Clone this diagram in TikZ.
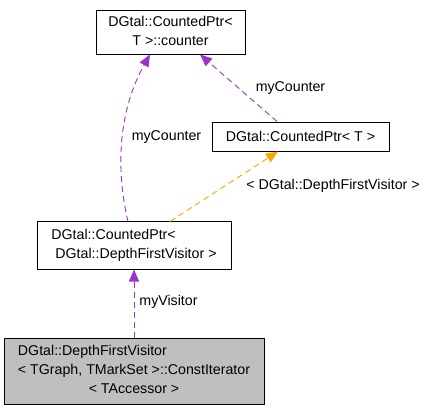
\documentclass[tikz,border=0pt]{standalone}
\usepackage{fontspec}
\setmainfont{Liberation Sans}
\usetikzlibrary{arrows.meta}
\definecolor{edgepurple}{HTML}{9A32CD}
\definecolor{edgeorange}{HTML}{FFA500}
\definecolor{boxgray}{HTML}{BFBFBF}
\tikzset{
  classbox/.style={draw=black, line width=1pt, rectangle, inner sep=0pt, font=\fontsize{14.2}{19}\selectfont},
  edgelabel/.style={inner sep=0pt, font=\fontsize{14.2}{19}\selectfont},
  uses/.style={draw=edgepurple, line width=0.9pt, dash pattern=on 6pt off 4pt, -{Triangle[length=12pt,width=10pt,fill=edgepurple]}},
  inherits/.style={draw=edgeorange, line width=0.9pt, dash pattern=on 6pt off 4pt, -{Triangle[length=12pt,width=10pt,fill=edgeorange]}}
}
\begin{document}
\begin{tikzpicture}[x=1pt,y=-1pt]
\useasboundingbox (0,0) rectangle (430,413);
\node[classbox, minimum width=149pt, minimum height=44pt] (counter) at (170.5,32)
  {\begin{tabular}{@{}c@{}}DGtal::CountedPtr<\\T >::counter\end{tabular}};
\node[classbox, minimum width=177pt, minimum height=29pt] (ptrT) at (300.5,136.5)
  {DGtal::CountedPtr< T >};
\node[classbox, minimum width=194pt, minimum height=48pt] (ptrDFV) at (134,245)
  {\begin{tabular}{@{}l@{}}DGtal::CountedPtr<\\\hspace{4pt}DGtal::DepthFirstVisitor >\end{tabular}};
\node[classbox, fill=boxgray, minimum width=260pt, minimum height=66pt] (iter) at (134,371)
  {\begin{tabular}{@{}l@{}}DGtal::DepthFirstVisitor\\< TGraph, TMarkSet >::ConstIterator\\\multicolumn{1}{@{}c@{}}{< TAccessor >}\end{tabular}};
\coordinate (a1) at (128,221.5);
\coordinate (a2) at (150,54.5);
\draw[uses] (a1) .. controls (117,175) and (116,115) .. (a2);
\coordinate (b1) at (277,121.5);
\coordinate (b2) at (200,54.5);
\draw[uses] (b1) -- (b2);
\coordinate (c1) at (170,221.5);
\coordinate (c2) at (278,151.5);
\draw[inherits] (c1) -- (c2);
\draw[uses] (iter.north) -- (ptrDFV.south);
\node[edgelabel] (l1) at (166.5,137) {myCounter};
\node[edgelabel] (l2) at (290.5,88) {myCounter};
\node[edgelabel] (l3) at (333,186) {< DGtal::DepthFirstVisitor >};
\node[edgelabel] (l4) at (168.5,302) {myVisitor};
\end{tikzpicture}
\end{document}
